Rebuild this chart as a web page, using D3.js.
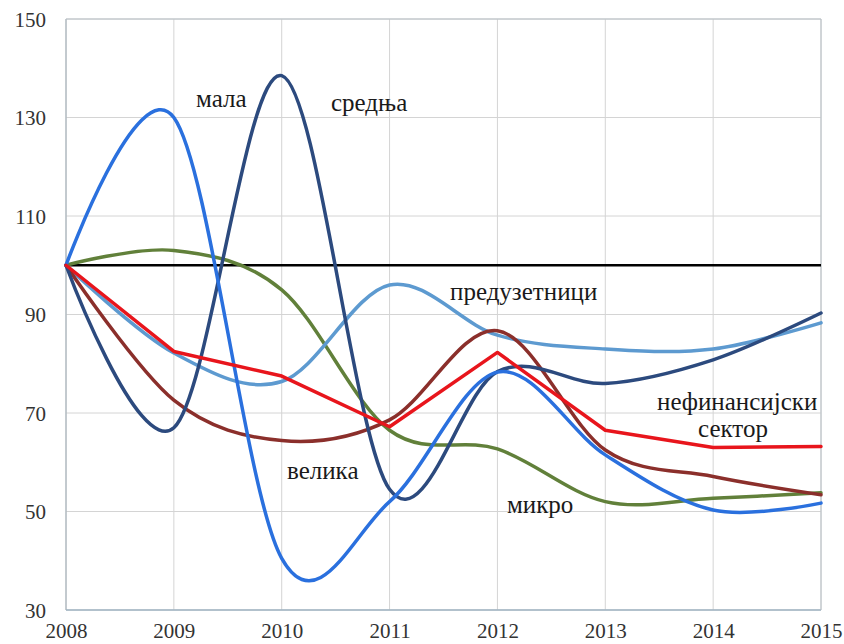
<!DOCTYPE html>
<html>
<head>
<meta charset="utf-8">
<script src="https://cdn.jsdelivr.net/npm/d3@7"></script>
<style>
  html, body { margin: 0; padding: 0; background: #fff; }
  svg { display: block; }
</style>
</head>
<body>
<svg id="chart" width="844" height="644"></svg>
<script>
const years = [2008, 2009, 2010, 2011, 2012, 2013, 2014, 2015];
const yTicks = [30, 50, 70, 90, 110, 130, 150];

const mala = [100, 130, 40.5, 52, 78.3, 61.5, 50.3, 51.7];
const srednja = [100, 67, 138.5, 54.5, 78.4, 76, 80.8, 90.3];
const preduzetnici = [100, 82.2, 76.4, 96, 85.8, 83, 83, 88.3];
const mikro = [100, 103, 95, 66.5, 62.7, 52, 52.7, 53.8];
const velika = [100, 72.6, 64.4, 68.6, 86.7, 62.5, 57.1, 53.4];
const sektor = [100, 82.5, 77.5, 67.2, 82.3, 66.5, 63, 63.2];
const reference = [100, 100, 100, 100, 100, 100, 100, 100];

const seriesNames = ["мала", "средња", "предузетници", "микро", "велика", "нефинансијски сектор"];

const svg = d3.select("#chart");
const x = d3.scaleLinear().domain([2008, 2015]).range([66, 821]);
const y = d3.scaleLinear().domain([30, 150]).range([610, 19]);

// gridlines
svg.append("g").selectAll("line").data(yTicks).join("line")
  .attr("x1", x(2008)).attr("x2", x(2015))
  .attr("y1", d => y(d)).attr("y2", d => y(d))
  .attr("stroke", "#d4d4d4").attr("stroke-width", 1);
svg.append("g").selectAll("line").data(years).join("line")
  .attr("x1", d => x(d)).attr("x2", d => x(d))
  .attr("y1", y(150)).attr("y2", y(30))
  .attr("stroke", "#d4d4d4").attr("stroke-width", 1);

// frame
svg.append("line").attr("x1", x(2008)).attr("x2", x(2008)).attr("y1", y(150)).attr("y2", y(30))
  .attr("stroke", "#a9b4bc").attr("stroke-width", 1.2);
svg.append("line").attr("x1", x(2008)).attr("x2", x(2015)).attr("y1", y(30)).attr("y2", y(30))
  .attr("stroke", "#9fb3c2").attr("stroke-width", 1.5);
svg.append("line").attr("x1", x(2015)).attr("x2", x(2015)).attr("y1", y(150)).attr("y2", y(30))
  .attr("stroke", "#b8c0c6").attr("stroke-width", 1);
svg.append("line").attr("x1", x(2008)).attr("x2", x(2015)).attr("y1", y(150)).attr("y2", y(150))
  .attr("stroke", "#b8c0c6").attr("stroke-width", 1);

// axes (labels only)
const yAxis = d3.axisLeft(y).tickValues(yTicks).tickSize(0).tickPadding(20);
const gy = svg.append("g").attr("transform", `translate(${x(2008)},0)`).call(yAxis);
gy.select(".domain").remove();
gy.selectAll("text").attr("font-family", "'Liberation Serif', 'Times New Roman', serif")
  .attr("font-size", 21).attr("fill", "#333").attr("dy", "0.35em");

const xAxis = d3.axisBottom(x).tickValues(years).tickFormat(d3.format("d")).tickSize(0).tickPadding(13);
const gx = svg.append("g").attr("transform", `translate(0,${y(30)})`).call(xAxis);
gx.select(".domain").remove();
gx.selectAll("text").attr("font-family", "'Liberation Serif', 'Times New Roman', serif")
  .attr("font-size", 21).attr("fill", "#333").attr("dy", "0.71em");

const smooth = d3.line().x((d, i) => x(years[i])).y(d => y(d)).curve(d3.curveCardinal.tension(0));
const straight = d3.line().x((d, i) => x(years[i])).y(d => y(d));

// reference line
svg.append("path").attr("d", straight(reference)).attr("fill", "none")
  .attr("stroke", "#000").attr("stroke-width", 2.5);

const defs = [
  { data: mikro, color: "#61803a", gen: smooth },
  { data: preduzetnici, color: "#5d9ad0", gen: smooth },
  { data: velika, color: "#8b2f2b", gen: smooth },
  { data: srednja, color: "#2c4a7e", gen: smooth },
  { data: mala, color: "#2a70de", gen: smooth },
  { data: sektor, color: "#e8151c", gen: straight }
];
svg.append("g").selectAll("path").data(defs).join("path")
  .attr("d", d => d.gen(d.data))
  .attr("fill", "none").attr("stroke", d => d.color)
  .attr("stroke-width", 3.5).attr("stroke-linejoin", "round").attr("stroke-linecap", "round");

// series labels
const labels = [
  { t: seriesNames[0], x: 196, y: 107 },
  { t: seriesNames[1], x: 331, y: 111 },
  { t: seriesNames[2], x: 450, y: 300 },
  { t: seriesNames[3], x: 507, y: 513 },
  { t: seriesNames[4], x: 287, y: 479 },
  { t: "нефинансијски", x: 657, y: 410 },
  { t: "сектор", x: 698, y: 437 }
];
svg.append("g").selectAll("text").data(labels).join("text")
  .attr("x", d => d.x).attr("y", d => d.y).text(d => d.t)
  .attr("font-family", "'Liberation Serif', 'Times New Roman', serif")
  .attr("font-size", 25).attr("fill", "#1a1a1a");
</script>
</body>
</html>
